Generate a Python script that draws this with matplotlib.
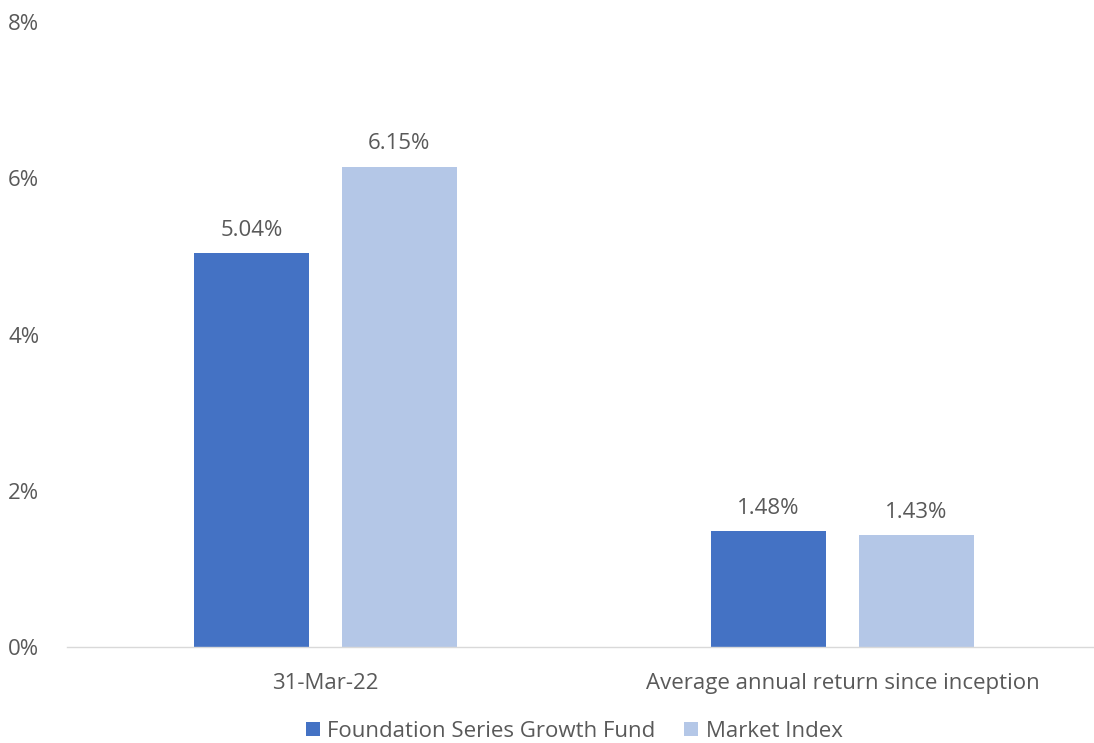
import numpy as np
from matplotlib import pyplot as plt

categories = ['31-Mar-22', 'Average annual return since inception']
fund = [5.04, 1.48]
index = [6.15, 1.43]
series_names = ['Foundation Series Growth Fund', 'Market Index']
colors = ['#4472C4', '#B4C7E7']
grey = '#595959'

plt.rcParams['font.family'] = ['Open Sans', 'DejaVu Sans']

fig = plt.figure(figsize=(10.94, 7.43), dpi=100)
ax = fig.add_axes([67 / 1094, 1 - 647 / 743, 1034 / 1094, (647 - 22) / 743])

x = np.arange(len(categories))
w = 0.222
off = 0.143
b1 = ax.bar(x - off, fund, w, color=colors[0], label=series_names[0])
b2 = ax.bar(x + off, index, w, color=colors[1], label=series_names[1])

#value labels above each bar
for bars in (b1, b2):
    for rect in bars:
        h = rect.get_height()
        ax.annotate('%.2f%%' % h, xy=(rect.get_x() + rect.get_width() / 2, h),
                    xytext=(0, 9), textcoords='offset points',
                    ha='center', va='bottom', fontsize=16, color=grey)

ax.set_xlim(-0.5, 1.5)
ax.set_ylim(0, 8)
ax.set_yticks([0, 2, 4, 6, 8])
ax.set_yticklabels(['%d%%' % v for v in [0, 2, 4, 6, 8]])
ax.set_xticks(x)
ax.set_xticklabels(categories)
ax.tick_params(axis='both', length=0, labelsize=16, labelcolor=grey)
ax.tick_params(axis='x', pad=19)
ax.tick_params(axis='y', pad=20)

for s in ['top', 'right', 'left']:
    ax.spines[s].set_visible(False)
ax.spines['bottom'].set_color('#D9D9D9')
ax.spines['bottom'].set_linewidth(1)

leg = fig.legend(loc='lower center', bbox_to_anchor=(0.525, -0.025), ncol=2, frameon=False,
                 fontsize=16, handlelength=0.6, handleheight=0.6, handletextpad=0.35,
                 columnspacing=1.3)
for t in leg.get_texts():
    t.set_color(grey)

fig.savefig('out.png', dpi=100)
